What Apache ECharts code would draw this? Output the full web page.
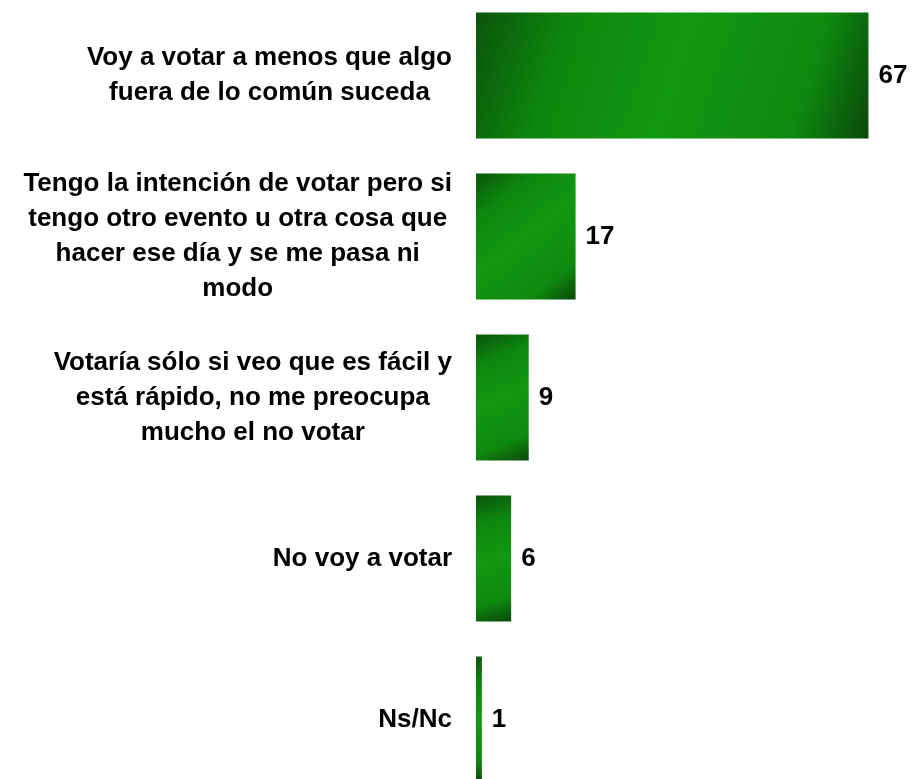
<!DOCTYPE html>
<html>
<head>
<meta charset="utf-8">
<script src="https://cdn.jsdelivr.net/npm/echarts@6/dist/echarts.min.js"></script>
<style>html,body{margin:0;padding:0;background:#fff;overflow:hidden}#c{position:absolute;left:0;top:-5px;width:914px;height:810px}</style>
</head>
<body>
<div id="c"></div>
<script>
const categories = [
  "Voy a votar a menos que algo\nfuera de lo común suceda",
  "Tengo la intención de votar pero si\ntengo otro evento u otra cosa que\nhacer ese día y se me pasa ni\nmodo",
  "Votaría sólo si veo que es fácil y\nestá rápido, no me preocupa\nmucho el no votar",
  "No voy a votar",
  "Ns/Nc"
];
const values = [67, 17, 9, 6, 1];

const FONT = "Liberation Sans";
const barColor = {
  type: 'linear', x: 0, y: 0, x2: 1, y2: 1,
  colorStops: [
    { offset: 0, color: '#0b560b' },
    { offset: 0.22, color: '#0e8a0e' },
    { offset: 0.5, color: '#129c12' },
    { offset: 0.82, color: '#0f8c0f' },
    { offset: 1, color: '#0a4a0a' }
  ]
};

const chart = echarts.init(document.getElementById('c'), null, { renderer: 'canvas' });
chart.setOption({
  animation: false,
  backgroundColor: '#ffffff',
  textStyle: { fontFamily: FONT },
  grid: { left: 476, top: 0, width: 410, height: 805, containLabel: false },
  xAxis: {
    type: 'value', min: 0, max: 70, show: false
  },
  yAxis: {
    type: 'category',
    inverse: true,
    data: categories,
    axisLine: { show: false },
    axisTick: { show: false },
    splitLine: { show: false },
    axisLabel: {
      margin: 24,
      align: 'right',
      fontFamily: FONT,
      formatter: function (v) {
        return v.split('\n').map(function (l) { return '{c|' + l + '}'; }).join('\n');
      },
      rich: {
        c: {
          align: 'center',
          fontSize: 26,
          fontWeight: 'bold',
          fontFamily: FONT,
          color: '#000',
          lineHeight: 35
        }
      }
    }
  },
  series: [{
    type: 'bar',
    data: values,
    barWidth: 126,
    itemStyle: {
      color: barColor,
      decal: {
        symbol: 'rect',
        color: 'rgba(0,0,0,0.10)',
        dashArrayX: [2, 1],
        dashArrayY: [1, 2],
        rotation: 0.6,
        symbolSize: 1
      }
    },
    label: {
      show: true,
      position: 'right',
      distance: 10,
      fontSize: 26,
      fontWeight: 'bold',
      fontFamily: FONT,
      color: '#000'
    }
  }]
});
</script>
</body>
</html>
